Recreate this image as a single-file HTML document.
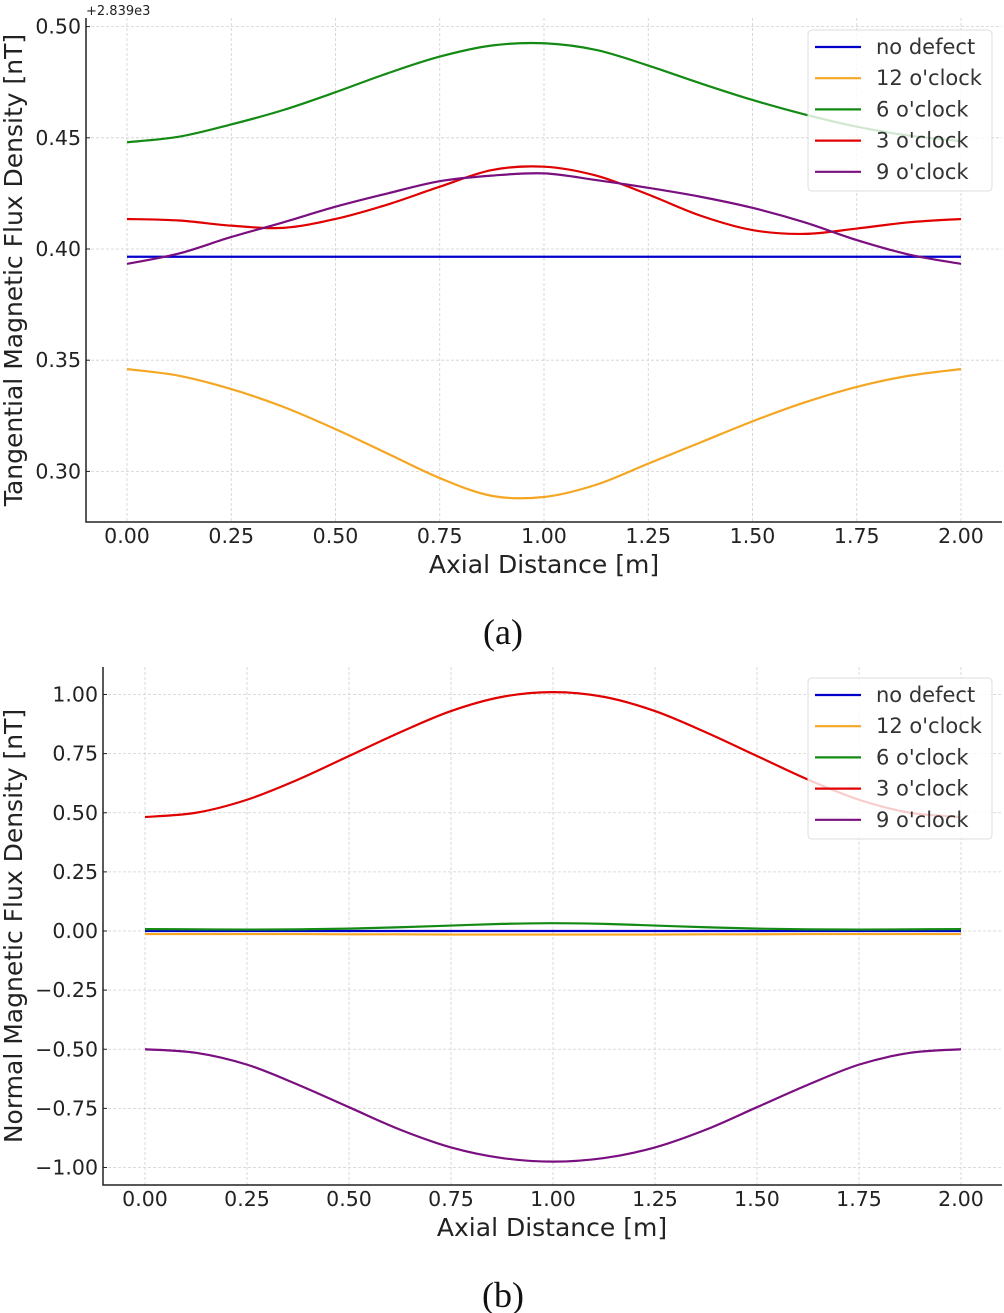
<!DOCTYPE html>
<html><head><meta charset="utf-8"><style>
html,body{margin:0;padding:0;background:#fff;}
svg{display:block;font-family:"DejaVu Sans","Liberation Sans",sans-serif;}
</style></head><body>
<svg id="svg" width="1004" height="1313" viewBox="0 0 1004 1313" xmlns="http://www.w3.org/2000/svg">
<g id="ga"></g>
<g id="gb"></g>
<text x="503" y="644" text-anchor="middle" font-family="Liberation Serif, serif" font-size="36" fill="#111">(a)</text>
<text x="503" y="1307" text-anchor="middle" font-family="Liberation Serif, serif" font-size="36" fill="#111">(b)</text>
</svg>
<script>
const xs = [0,0.125,0.25,0.375,0.5,0.625,0.75,0.875,1.0,1.125,1.25,1.375,1.5,1.625,1.75,1.875,2.0];
const xTicks = [0,0.25,0.5,0.75,1.0,1.25,1.5,1.75,2.0];
const xTickLabels = ["0.00","0.25","0.50","0.75","1.00","1.25","1.50","1.75","2.00"];
const seriesNames = ["no defect","12 o'clock","6 o'clock","3 o'clock","9 o'clock"];
const seriesColors = ["#0000cc","#f5a623","#138a13","#e00000","#7a0f80"];
// Panel (a) values (offset +2839)
const aNoDefect = [0.3965,0.3965,0.3965,0.3965,0.3965,0.3965,0.3965,0.3965,0.3965,0.3965,0.3965,0.3965,0.3965,0.3965,0.3965,0.3965,0.3965];
const a12 = [0.346,0.343,0.337,0.329,0.319,0.308,0.297,0.289,0.2885,0.294,0.3035,0.313,0.3225,0.331,0.338,0.343,0.346];
const a6 = [0.448,0.4505,0.456,0.4625,0.4705,0.479,0.4865,0.4915,0.4925,0.4895,0.4825,0.4745,0.467,0.4605,0.455,0.451,0.4485];
const a3 = [0.4135,0.4128,0.4105,0.4095,0.4135,0.42,0.428,0.4355,0.437,0.433,0.4245,0.415,0.4085,0.4068,0.4092,0.412,0.4135];
const a9 = [0.3933,0.398,0.4054,0.412,0.419,0.425,0.4305,0.433,0.434,0.431,0.4275,0.4235,0.4185,0.412,0.404,0.3975,0.3933];
const aYTicks = [0.30,0.35,0.40,0.45,0.50];
const aYTickLabels = ["0.30","0.35","0.40","0.45","0.50"];
// Panel (b) values
const bNoDefect = [0,0,0,0,0,0,0,0,0,0,0,0,0,0,0,0,0];
const b12 = [-0.013,-0.013,-0.013,-0.013,-0.014,-0.014,-0.015,-0.015,-0.015,-0.015,-0.015,-0.014,-0.014,-0.013,-0.013,-0.013,-0.013];
const b6 = [0.008,0.007,0.006,0.007,0.01,0.016,0.023,0.03,0.033,0.03,0.023,0.016,0.01,0.007,0.006,0.007,0.008];
const b3 = [0.482,0.50,0.555,0.64,0.74,0.84,0.93,0.99,1.01,0.99,0.93,0.84,0.74,0.64,0.555,0.50,0.482];
const b9 = [-0.50,-0.515,-0.565,-0.65,-0.745,-0.84,-0.915,-0.96,-0.975,-0.96,-0.915,-0.84,-0.745,-0.65,-0.565,-0.515,-0.50];
const bYTicks = [-1.0,-0.75,-0.5,-0.25,0,0.25,0.5,0.75,1.0];
const bYTickLabels = ["\u22121.00","\u22120.75","\u22120.50","\u22120.25","0.00","0.25","0.50","0.75","1.00"];

const NS="http://www.w3.org/2000/svg";
function mk(parent,tag,attrs,text){const e=document.createElementNS(NS,tag);for(const k in attrs)e.setAttribute(k,attrs[k]);if(text!==undefined)e.textContent=text;parent.appendChild(e);return e;}
function smooth(pts){let d="M"+pts[0][0].toFixed(2)+","+pts[0][1].toFixed(2);
 for(let i=0;i<pts.length-1;i++){const p0=pts[Math.max(0,i-1)],p1=pts[i],p2=pts[i+1],p3=pts[Math.min(pts.length-1,i+2)];
  const c1=[p1[0]+(p2[0]-p0[0])/6,p1[1]+(p2[1]-p0[1])/6],c2=[p2[0]-(p3[0]-p1[0])/6,p2[1]-(p3[1]-p1[1])/6];
  d+="C"+c1[0].toFixed(2)+","+c1[1].toFixed(2)+" "+c2[0].toFixed(2)+","+c2[1].toFixed(2)+" "+p2[0].toFixed(2)+","+p2[1].toFixed(2);}
 return d;}
function panel(g,cfg){
 const X=v=>cfg.x0+v*cfg.xs, Y=v=>cfg.y0-(v-cfg.yRef)*cfg.ys;
 xTicks.forEach((t,i)=>{
  const gl=mk(g,'line',{x1:X(t),x2:X(t),y1:cfg.top,y2:cfg.bottom,stroke:'#d0d0d0','stroke-dasharray':'3,2','stroke-width':0.8});
  
  const tl=mk(g,'text',{x:X(t),y:cfg.bottom+21,'text-anchor':'middle','font-size':20.5,fill:'#222'},xTickLabels[i]);
  
 });
 cfg.yt.forEach((t,i)=>{
  const gl=mk(g,'line',{x1:cfg.left,x2:cfg.right,y1:Y(t),y2:Y(t),stroke:'#d0d0d0','stroke-dasharray':'3,2','stroke-width':0.8});
  
  const tk=mk(g,'line',{x1:cfg.left,x2:cfg.left+4,y1:Y(t),y2:Y(t),stroke:'#222'});
  
  const tl=mk(g,'text',{x:cfg.left-5,y:Y(t)+7,'text-anchor':'end','font-size':20.5,fill:'#222'},cfg.ytl[i]);
  
 });
 const ax=mk(g,'path',{d:`M${cfg.left},${cfg.top}V${cfg.bottom}H${cfg.right}`,fill:'none',stroke:'#222','stroke-width':1.5});
 
 cfg.series.forEach((s,i)=>{
  const p=mk(g,'path',{d:smooth(xs.map((x,j)=>[X(x),Y(s[j])])),fill:'none',stroke:seriesColors[i],'stroke-width':2.2});
  
  
 });
 const lg=mk(g,'g',{});
 
 mk(lg,'rect',{x:808,y:cfg.legTop,width:184,height:161,rx:4,fill:'#fff','fill-opacity':0.8,stroke:'#ddd'});
 seriesNames.forEach((n,i)=>{
  const yy=cfg.legTop+17+i*31.2;
  const e=mk(lg,'g',{});
  
  mk(e,'line',{x1:815,x2:861,y1:yy,y2:yy,stroke:seriesColors[i],'stroke-width':2.2});
  mk(e,'text',{x:876,y:yy+7,'font-size':21,fill:'#333'},n);
 });
 const xl=mk(g,'text',{x:cfg.xlX,y:cfg.bottom+51,'text-anchor':'middle','font-size':25,fill:'#222'},'Axial Distance [m]');
 
 const yl=mk(g,'text',{x:0,y:0,'text-anchor':'middle','font-size':25,fill:'#222',transform:`translate(${cfg.ylX},${(cfg.top+cfg.bottom)/2}) rotate(-90)`},cfg.ylabel);
 
}
const ga=document.getElementById('ga');
panel(ga,{x0:127,xs:417,y0:249,yRef:0.40,ys:2224,left:86,right:1002,top:18,bottom:522,yt:aYTicks,ytl:aYTickLabels,
 series:[aNoDefect,a12,a6,a3,a9],legTop:30,xlX:544,ylX:22,ylabel:'Tangential Magnetic Flux Density [nT]'});
const off=mk(ga,'text',{x:86,y:15,'font-size':13,fill:'#222'},'+2.839e3');


panel(document.getElementById('gb'),{x0:145,xs:408,y0:931,yRef:0,ys:236.5,left:103,right:1002,top:667,bottom:1185,yt:bYTicks,ytl:bYTickLabels,
 series:[bNoDefect,b12,b6,b3,b9],legTop:678,xlX:552,ylX:22,ylabel:'Normal Magnetic Flux Density [nT]'});
</script>
</body></html>
